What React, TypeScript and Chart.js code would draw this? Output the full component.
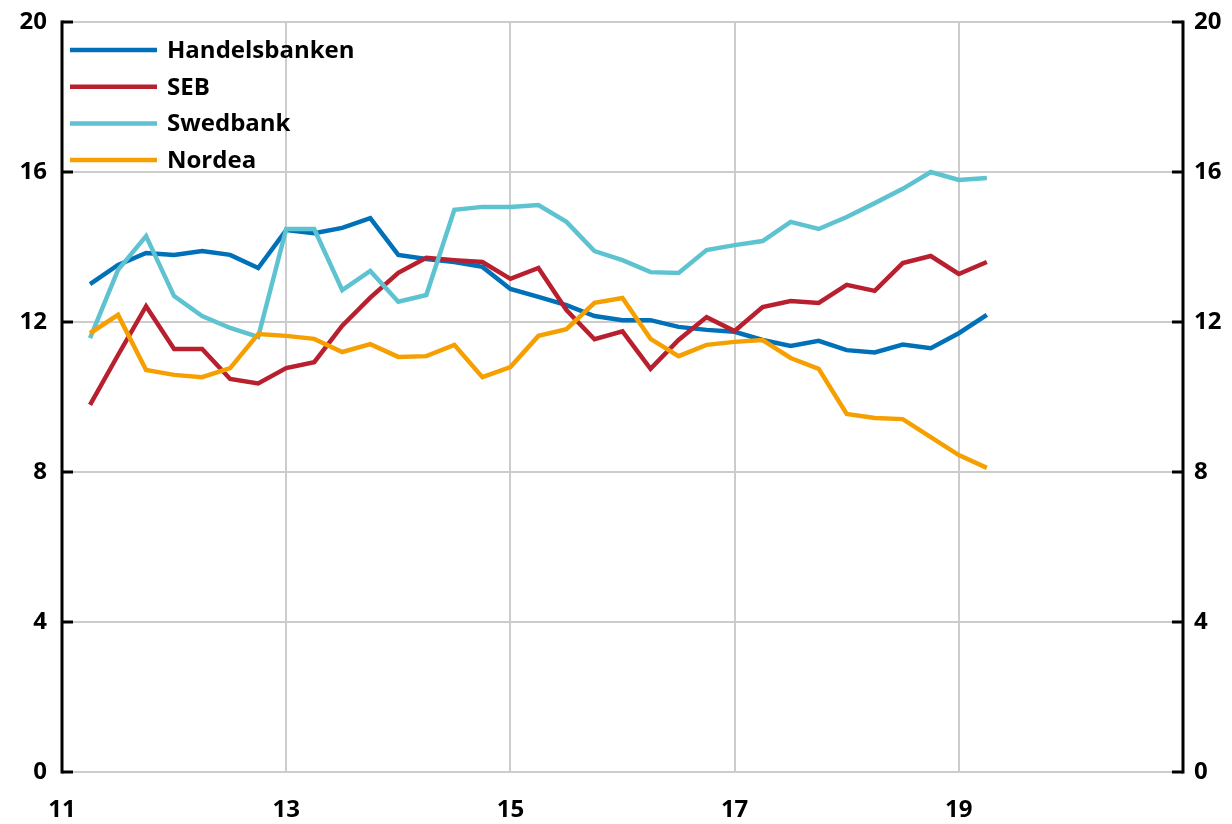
import React, { useEffect, useRef } from "react";
import { Chart, registerables } from "chart.js";

Chart.register(...registerables);

// Quarterly observations, year fraction (11 = 2011)
const quarters = [
  11.25, 11.5, 11.75, 12.0, 12.25, 12.5, 12.75, 13.0, 13.25, 13.5, 13.75,
  14.0, 14.25, 14.5, 14.75, 15.0, 15.25, 15.5, 15.75, 16.0, 16.25, 16.5,
  16.75, 17.0, 17.25, 17.5, 17.75, 18.0, 18.25, 18.5, 18.75, 19.0, 19.25,
];

const handelsbanken = [
  13.01, 13.52, 13.84, 13.79, 13.89, 13.79, 13.44, 14.45, 14.37, 14.51, 14.77,
  13.79, 13.68, 13.6, 13.47, 12.88, 12.67, 12.45, 12.16, 12.05, 12.05, 11.87,
  11.79, 11.74, 11.52, 11.36, 11.5, 11.25, 11.19, 11.4, 11.3, 11.7, 12.19,
];

const seb = [
  9.79, 11.12, 12.42, 11.28, 11.28, 10.48, 10.36, 10.77, 10.93, 11.9, 12.65,
  13.31, 13.71, 13.65, 13.6, 13.15, 13.44, 12.32, 11.54, 11.75, 10.75, 11.52,
  12.13, 11.76, 12.4, 12.56, 12.51, 12.99, 12.83, 13.57, 13.76, 13.28, 13.6,
];

const swedbank = [
  11.57, 13.39, 14.29, 12.69, 12.16, 11.84, 11.6, 14.48, 14.48, 12.85, 13.36,
  12.54, 12.72, 14.99, 15.07, 15.07, 15.12, 14.67, 13.89, 13.65, 13.33, 13.31,
  13.92, 14.05, 14.16, 14.67, 14.48, 14.8, 15.17, 15.55, 16.0, 15.79, 15.84,
];

const nordea = [
  11.7, 12.19, 10.72, 10.59, 10.53, 10.77, 11.68, 11.63, 11.55, 11.2, 11.41,
  11.07, 11.09, 11.39, 10.53, 10.8, 11.63, 11.81, 12.51, 12.64, 11.55, 11.09,
  11.39, 11.47, 11.52, 11.04, 10.75, 9.55, 9.44, 9.41, 8.93, 8.45, 8.11,
];

const seriesNames = ["Handelsbanken", "SEB", "Swedbank", "Nordea"];
const seriesColors = ["#0070b8", "#b8202f", "#5ec3d1", "#f5a000"];

const xTickValues = [11, 13, 15, 17, 19, 21];
const xTickLabels = ["11", "13", "15", "17", "19", ""];
const yTickValues = [0, 4, 8, 12, 16, 20];

const FONT = "'Open Sans', 'DejaVu Sans', sans-serif";

const axesPlugin = {
  id: "inwardAxes",
  afterDatasetsDraw(chart: any) {
    const { ctx, chartArea } = chart;
    const yScale = chart.scales.y;
    ctx.save();
    ctx.strokeStyle = "#000";
    ctx.lineWidth = 3;
    ctx.beginPath();
    ctx.moveTo(chartArea.left, chartArea.top - 1.5);
    ctx.lineTo(chartArea.left, chartArea.bottom + 1.5);
    ctx.moveTo(chartArea.right, chartArea.top - 1.5);
    ctx.lineTo(chartArea.right, chartArea.bottom + 1.5);
    ctx.stroke();
    for (const v of yTickValues) {
      const py = yScale.getPixelForValue(v);
      ctx.beginPath();
      ctx.moveTo(chartArea.left, py);
      ctx.lineTo(chartArea.left + 11, py);
      ctx.moveTo(chartArea.right, py);
      ctx.lineTo(chartArea.right - 11, py);
      ctx.stroke();
    }
    ctx.restore();
  },
};

const legendPlugin = {
  id: "customLegend",
  afterDraw(chart: any) {
    const { ctx } = chart;
    ctx.save();
    ctx.font = `bold 24px ${FONT}`;
    ctx.textBaseline = "middle";
    ctx.fillStyle = "#000";
    seriesNames.forEach((name, i) => {
      const y = 50 + i * 36.7;
      ctx.strokeStyle = seriesColors[i];
      ctx.lineWidth = 4.5;
      ctx.beginPath();
      ctx.moveTo(70, y);
      ctx.lineTo(157, y);
      ctx.stroke();
      ctx.fillText(name, 167, y + 1);
    });
    ctx.restore();
  },
};

export default function App() {
  const canvasRef = useRef<HTMLCanvasElement | null>(null);

  useEffect(() => {
    const canvas = canvasRef.current;
    if (!canvas) return;
    const allSeries = [handelsbanken, seb, swedbank, nordea];
    const chart = new Chart(canvas, {
      type: "line",
      data: {
        datasets: allSeries.map((vals, i) => ({
          label: seriesNames[i],
          data: quarters.map((q, j) => ({ x: q, y: vals[j] })),
          borderColor: seriesColors[i],
          backgroundColor: seriesColors[i],
          borderWidth: 4.5,
          pointRadius: 0,
          tension: 0,
          fill: false,
          order: 3 - i,
        })),
      },
      options: {
        responsive: false,
        animation: false,
        devicePixelRatio: 1,
        layout: { padding: { top: 22, left: 0, right: 0, bottom: 0 } },
        plugins: {
          legend: { display: false },
          tooltip: { enabled: false },
        },
        scales: {
          x: {
            type: "linear",
            min: 11,
            max: 21,
            afterBuildTicks(scale: any) {
              scale.ticks = xTickValues.map((v) => ({ value: v }));
            },
            afterFit(scale: any) {
              scale.height = 52;
              scale.paddingLeft = 0;
              scale.paddingRight = 0;
            },
            grid: {
              color: "#cccccc",
              lineWidth: 2,
              drawTicks: false,
            },
            border: { display: false },
            ticks: {
              padding: 24,
              maxRotation: 0,
              autoSkip: false,
              color: "#000",
              font: { family: FONT, size: 24, weight: "bold" },
              callback(value: any) {
                const idx = xTickValues.indexOf(Number(value));
                return idx >= 0 ? xTickLabels[idx] : "";
              },
            },
          },
          y: {
            position: "left",
            min: 0,
            max: 20,
            afterBuildTicks(scale: any) {
              scale.ticks = yTickValues.map((v) => ({ value: v }));
            },
            afterFit(scale: any) {
              scale.width = 62;
              scale.paddingTop = 0;
              scale.paddingBottom = 0;
            },
            grid: { color: "#cccccc", lineWidth: 2, drawTicks: false },
            border: { display: false },
            ticks: {
              padding: 15,
              color: "#000",
              font: { family: FONT, size: 24, weight: "bold" },
            },
          },
          y2: {
            position: "right",
            min: 0,
            max: 20,
            afterBuildTicks(scale: any) {
              scale.ticks = yTickValues.map((v) => ({ value: v }));
            },
            afterFit(scale: any) {
              scale.width = 49;
              scale.paddingTop = 0;
              scale.paddingBottom = 0;
            },
            grid: { display: false, drawTicks: false },
            border: { display: false },
            ticks: {
              padding: 11,
              color: "#000",
              font: { family: FONT, size: 24, weight: "bold" },
            },
          },
        },
      } as any,
      plugins: [axesPlugin, legendPlugin],
    });
    return () => chart.destroy();
  }, []);

  return (
    <div style={{ position: "absolute", left: 0, top: 0, width: 1232, height: 824, background: "#fff" }}>
      <canvas ref={canvasRef} width={1232} height={824} style={{ display: "block" }} />
    </div>
  );
}
